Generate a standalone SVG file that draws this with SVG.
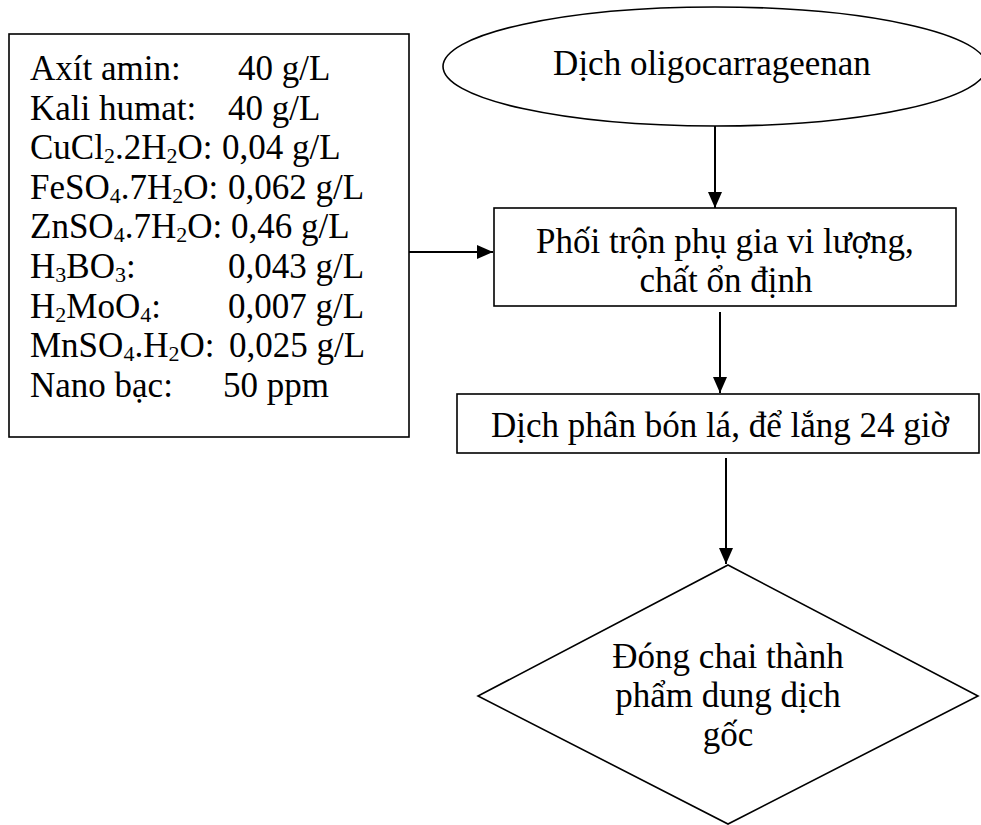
<svg xmlns="http://www.w3.org/2000/svg" width="981" height="825" viewBox="0 0 981 825">
  <style>
    .shape { fill: #ffffff; stroke: #000000; stroke-width: 1.6; }
    .edge { fill: none; stroke: #000000; stroke-width: 2; }
    text { font-family: "Liberation Serif", "Times New Roman", serif; font-size: 35px; fill: #000000; }
    .mid { text-anchor: middle; }
    .sub { font-size: 22px; }
  </style>
  <defs>
    <marker id="arrow" viewBox="0 0 16 14" refX="16" refY="7" markerWidth="16" markerHeight="14" markerUnits="userSpaceOnUse" orient="auto">
      <path d="M0,0 L16,7 L0,14 Z" fill="#000000"/>
    </marker>
  </defs>

  <rect width="981" height="825" fill="#ffffff"/>

  <!-- ingredient list -->
  <g id="ingredients">
    <rect class="shape" x="9" y="34" width="400" height="403"/>
    <text x="30" y="80">Axít amin:</text><text x="238" y="80">40 g/L</text>
    <text x="30" y="119.6">Kali humat:</text><text x="228" y="119.6">40 g/L</text>
    <text x="30" y="159.2">CuCl<tspan class="sub" dy="4">2</tspan><tspan dy="-4">.2H</tspan><tspan class="sub" dy="4">2</tspan><tspan dy="-4">O:</tspan></text><text x="222" y="159.2">0,04 g/L</text>
    <text x="30" y="198.8">FeSO<tspan class="sub" dy="4">4</tspan><tspan dy="-4">.7H</tspan><tspan class="sub" dy="4">2</tspan><tspan dy="-4">O:</tspan></text><text x="228" y="198.8">0,062 g/L</text>
    <text x="30" y="238.4">ZnSO<tspan class="sub" dy="4">4</tspan><tspan dy="-4">.7H</tspan><tspan class="sub" dy="4">2</tspan><tspan dy="-4">O:</tspan></text><text x="231" y="238.4">0,46 g/L</text>
    <text x="30" y="278">H<tspan class="sub" dy="4">3</tspan><tspan dy="-4">BO</tspan><tspan class="sub" dy="4">3</tspan><tspan dy="-4">:</tspan></text><text x="228" y="278">0,043 g/L</text>
    <text x="30" y="317.6">H<tspan class="sub" dy="4">2</tspan><tspan dy="-4">MoO</tspan><tspan class="sub" dy="4">4</tspan><tspan dy="-4">:</tspan></text><text x="228" y="317.6">0,007 g/L</text>
    <text x="30" y="357.2">MnSO<tspan class="sub" dy="4">4</tspan><tspan dy="-4">.H</tspan><tspan class="sub" dy="4">2</tspan><tspan dy="-4">O:</tspan></text><text x="229" y="357.2">0,025 g/L</text>
    <text x="30" y="396.8">Nano bạc:</text><text x="223" y="396.8">50 ppm</text>
  </g>

  <!-- source liquid -->
  <g id="source">
    <ellipse class="shape" cx="715" cy="66.5" rx="272" ry="59.5"/>
    <text class="mid" x="712" y="75">Dịch oligocarrageenan</text>
  </g>

  <!-- mixing step -->
  <g id="mixing">
    <rect class="shape" x="494" y="208" width="462" height="98"/>
    <text class="mid" x="725" y="253">Phối trộn phụ gia vi lượng,</text>
    <text class="mid" x="726" y="292">chất ổn định</text>
  </g>

  <!-- settling step -->
  <g id="settling">
    <rect class="shape" x="457" y="394" width="522" height="59"/>
    <text class="mid" x="720" y="437">Dịch phân bón lá, để lắng 24 giờ</text>
  </g>

  <!-- bottling step -->
  <g id="bottling">
    <polygon class="shape" points="728,565 978,696 728,824 478,696"/>
    <text class="mid" x="728" y="668">Đóng chai thành</text>
    <text class="mid" x="728" y="707">phẩm dung dịch</text>
    <text class="mid" x="728" y="746">gốc</text>
  </g>

  <!-- connectors -->
  <g id="connectors">
    <line class="edge" x1="715" y1="126" x2="715" y2="208" marker-end="url(#arrow)"/>
    <line class="edge" x1="409" y1="252" x2="493" y2="252" marker-end="url(#arrow)"/>
    <line class="edge" x1="720" y1="312" x2="720" y2="393" marker-end="url(#arrow)"/>
    <line class="edge" x1="726" y1="458" x2="726" y2="564" marker-end="url(#arrow)"/>
  </g>
</svg>
